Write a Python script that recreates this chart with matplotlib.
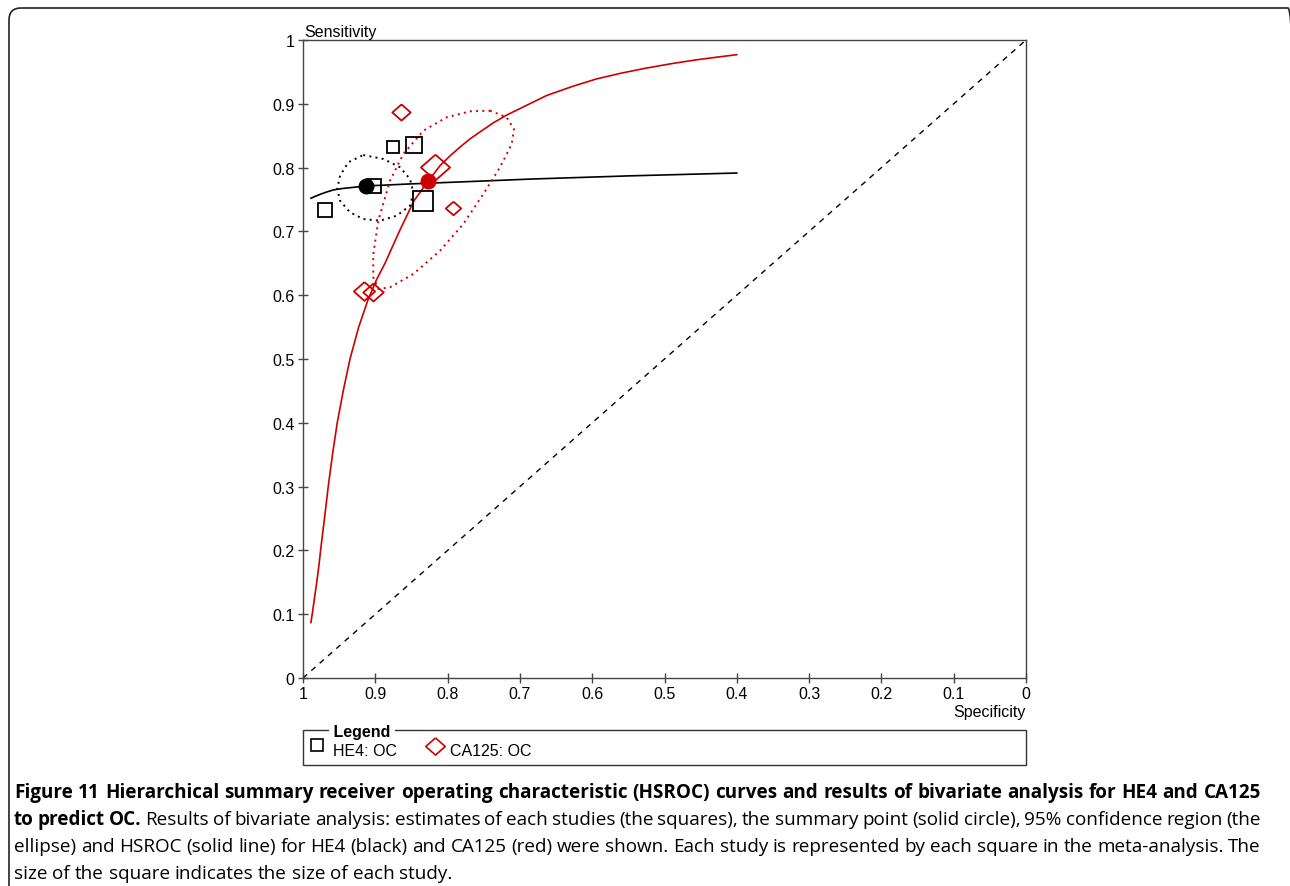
import numpy as np
import matplotlib
matplotlib.use('Agg')
import matplotlib.pyplot as plt
from matplotlib.patches import FancyBboxPatch, Rectangle
from matplotlib.lines import Line2D
from matplotlib.transforms import IdentityTransform

# ---- data (specificity, sensitivity) ----
he4_spec = [0.970, 0.876, 0.847, 0.902, 0.834]
he4_sens = [0.734, 0.833, 0.836, 0.771, 0.748]
he4_weight = [0.70, 0.56, 0.74, 0.70, 1.00]   # relative study size

ca125_spec = [0.8645, 0.8174, 0.793, 0.9156, 0.9027]
ca125_sens = [0.887, 0.8005, 0.737, 0.607, 0.6045]
ca125_weight = [0.63, 1.00, 0.53, 0.73, 0.70]

he4_summary = (0.9129, 0.7712)
ca125_summary = (0.8271, 0.7785)

# HSROC curves
he4_curve_spec = [0.989, 0.983, 0.9765, 0.968, 0.958, 0.947, 0.935, 0.9129, 0.85, 0.75,
                  0.686, 0.55, 0.40]
he4_curve_sens = [0.752, 0.755, 0.758, 0.7615, 0.765, 0.767, 0.7685, 0.7712, 0.7745, 0.779,
                  0.782, 0.787, 0.7915]

ca125_curve_spec = [0.989, 0.987, 0.985, 0.983, 0.981, 0.978, 0.9755, 0.970, 0.965, 0.959,
                    0.9525, 0.944, 0.935, 0.923, 0.9097, 0.898, 0.8866, 0.8668, 0.8465,
                    0.8271, 0.8105, 0.797, 0.783, 0.769, 0.755, 0.737, 0.718, 0.690,
                    0.663, 0.628, 0.594, 0.560, 0.525, 0.490, 0.4555, 0.428, 0.400]
ca125_curve_sens = [0.087, 0.102, 0.118, 0.134, 0.150, 0.176, 0.202, 0.253, 0.301, 0.352,
                    0.401, 0.452, 0.500, 0.550, 0.594, 0.625, 0.650, 0.700, 0.748,
                    0.7785, 0.803, 0.818, 0.832, 0.845, 0.856, 0.870, 0.8825, 0.898,
                    0.913, 0.927, 0.939, 0.948, 0.956, 0.963, 0.969, 0.973, 0.977]

# 95% confidence regions
he4_region_spec = [0.9166, 0.8889, 0.8658, 0.8520, 0.8474, 0.8520, 0.8704, 0.8935,
                   0.9166, 0.9350, 0.9488, 0.9526, 0.9488, 0.9373]
he4_region_sens = [0.8197, 0.8135, 0.8005, 0.7821, 0.7613, 0.7403, 0.7246, 0.7168,
                   0.7194, 0.7299, 0.7481, 0.7665, 0.7873, 0.8083]

ca125_region_spec = [0.7414, 0.7183, 0.7082, 0.7113, 0.7275, 0.7506, 0.7783, 0.8105,
                     0.8474, 0.8797, 0.8958, 0.9028, 0.9028, 0.8958, 0.8797, 0.8613,
                     0.8336, 0.8012, 0.7690]
ca125_region_sens = [0.8892, 0.8788, 0.8605, 0.8370, 0.8005, 0.7586, 0.7116, 0.6697,
                     0.6332, 0.6124, 0.6097, 0.6281, 0.6646, 0.7168, 0.7795, 0.8213,
                     0.8578, 0.8788, 0.8882]

ticks = [1, 0.9, 0.8, 0.7, 0.6, 0.5, 0.4, 0.3, 0.2, 0.1, 0]
tick_labels = ['1', '0.9', '0.8', '0.7', '0.6', '0.5', '0.4', '0.3', '0.2', '0.1', '0']

# caption lines: (text, bold) pieces per line
caption_lines = [
    [('Figure 11 Hierarchical summary receiver operating characteristic (HSROC) curves '
      'and results of bivariate analysis for HE4 and CA125', True)],
    [('to predict OC.', True),
     ('Results of bivariate analysis: estimates of each studies (the squares), '
      'the summary point (solid circle), 95% confidence region (the', False)],
    [('ellipse) and HSROC (solid line) for HE4 (black) and CA125 (red) were shown. '
      'Each study is represented by each square in the meta-analysis. The', False)],
    [('size of the square indicates the size of each study.', False)],
]

RED = '#CC0000'
W, H = 1290, 887
FS = 11.5

plt.rcParams['font.family'] = ['Liberation Sans', 'DejaVu Sans']

fig = plt.figure(figsize=(W / 100, H / 100), dpi=100)


def fx(px):
    return px / W


def fy(py):
    return 1 - py / H


ax = fig.add_axes([fx(303), fy(679), 723 / W, 638 / H])
ax.set_xlim(1, 0)
ax.set_ylim(0, 1)

# chance line
ax.plot([1, 0], [0, 1], color='black', lw=1, ls=(0, (4, 4)))

# HSROC curves
ax.plot(he4_curve_spec, he4_curve_sens, color='black', lw=1.2)
ax.plot(ca125_curve_spec, ca125_curve_sens, color=RED, lw=1.2)

# confidence regions (closed)
ax.plot(he4_region_spec + he4_region_spec[:1], he4_region_sens + he4_region_sens[:1],
        color='black', lw=1.4, ls=(0, (1, 2.2)))
ax.plot(ca125_region_spec + ca125_region_spec[:1], ca125_region_sens + ca125_region_sens[:1],
        color=RED, lw=1.4, ls=(0, (1, 2.2)))

# study estimates
for s, v, w in zip(he4_spec, he4_sens, he4_weight):
    ax.plot(s, v, marker='s', ms=15 * w, mfc='none', mec='black', mew=1.3)
diamond = [(0, 0.88), (1, 0), (0, -0.88), (-1, 0), (0, 0.88)]
for s, v, w in zip(ca125_spec, ca125_sens, ca125_weight):
    ax.plot(s, v, marker=diamond, ms=21 * w, mfc='none', mec=RED, mew=1.3)

# summary points
ax.plot(*he4_summary, marker='o', ms=10.5, color='black', zorder=5)
ax.plot(*ca125_summary, marker='o', ms=10.5, color=RED, zorder=5)

ax.set_xticks(ticks)
ax.set_xticklabels(tick_labels)
ax.set_yticks(ticks)
ax.set_yticklabels(tick_labels)
ax.tick_params(direction='inout', length=7, width=1, color='#444444',
               labelsize=FS, pad=2.5)
for sp in ax.spines.values():
    sp.set_color('#444444')
    sp.set_linewidth(1)

fig.text(fx(304), fy(37), 'Sensitivity', fontsize=FS, ha='left', va='baseline')
fig.text(fx(1026), fy(713), 'Specificity', fontsize=FS, ha='right', va='center')

# legend box
fig.add_artist(Rectangle((fx(303), fy(766)), 723 / W, 35 / H, transform=fig.transFigure,
                         fill=False, ec='#333333', lw=1))
fig.text(fx(329), fy(732), ' Legend ', fontsize=FS, weight='bold', ha='left',
         va='center', bbox=dict(fc='white', ec='none', pad=0))
fig.add_artist(Line2D([fx(317)], [fy(746)], transform=fig.transFigure, marker='s',
                      ms=8.5, mfc='none', mec='black', mew=1.2))
fig.text(fx(333), fy(752), 'HE4: OC', fontsize=FS, ha='left', va='center')
fig.add_artist(Line2D([fx(435)], [fy(747)], transform=fig.transFigure, marker=diamond,
                      ms=14, mfc='none', mec=RED, mew=1.2))
fig.text(fx(450), fy(752), 'CA125: OC', fontsize=FS, ha='left', va='center')

# caption, justified between x=14 and x=1261 px (last line left aligned)
cap_font = ['Open Sans', 'DejaVu Sans']
cap_size = 13.6
x_left, x_right = 14, 1261
baselines = [798, 825, 852, 879]
renderer = fig.canvas.get_renderer()
sp = fig.text(0, 0, 'a a', family=cap_font, fontsize=cap_size)
sp2 = fig.text(0, 0, 'aa', family=cap_font, fontsize=cap_size)
space_w = sp.get_window_extent(renderer).width - sp2.get_window_extent(renderer).width
sp.remove()
sp2.remove()
for i, (pieces, base) in enumerate(zip(caption_lines, baselines)):
    words = []
    for text, bold in pieces:
        for wd in text.split(' '):
            t = fig.text(0, fy(base), wd, family=cap_font, fontsize=cap_size,
                         weight='bold' if bold else 'normal', va='baseline')
            words.append(t)
    widths = [t.get_window_extent(renderer).width for t in words]
    gap = space_w
    if i < len(caption_lines) - 1:
        gap = (x_right - x_left - sum(widths)) / (len(words) - 1)
    x = x_left
    for t, wdt in zip(words, widths):
        t.set_x(fx(x))
        x += wdt + gap

# rounded frame around the figure
fig.add_artist(FancyBboxPatch((9, -30), 1291, H - 9 + 30, transform=IdentityTransform(),
                              boxstyle='round,pad=0,rounding_size=12', fill=False,
                              ec='#222222', lw=1.2))

fig.savefig('out.png', dpi=100)
